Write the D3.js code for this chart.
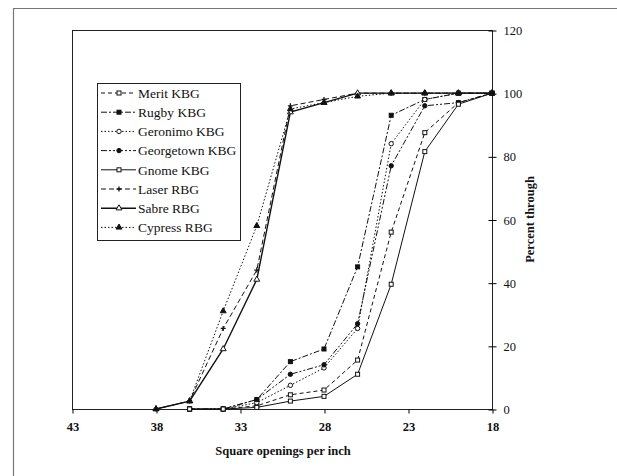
<!DOCTYPE html>
<html>
<head>
<meta charset="utf-8">
<script src="https://cdn.jsdelivr.net/npm/d3@7"></script>
<style>
  body { margin: 0; background: #fff; }
  svg text { font-family: "Liberation Serif", "Times New Roman", Times, serif !important; fill: #111; }
</style>
</head>
<body>
<script>
//// Data ////
const X_TICKS = [43, 38, 33, 28, 23, 18]
const Y_TICKS = [0, 20, 40, 60, 80, 100, 120]

const X_KBG = [36, 34, 32, 30, 28, 26, 24, 22, 20, 18]
const X_RBG = [38, 36, 34, 32, 30, 28, 26, 24, 22, 20, 18]

const MERIT = [0, 0, 1, 4.5, 6, 15.5, 56, 87.5, 97, 100]
const RUGBY = [0, 0, 3, 15, 19, 45, 93, 98, 100, 100]
const GERONIMO = [0, 0, 2, 7.5, 13, 25.5, 84, 98, 100, 100]
const GEORGETOWN = [0, 0, 3, 11, 14, 27, 77, 96, 97, 100]
const GNOME = [0, 0, 0.5, 2.5, 4, 11, 39.5, 81.5, 96.5, 100]
const LASER = [0, 2.5, 25.5, 44, 96, 98, 100, 100, 100, 100, 100]
const SABRE = [0, 2.5, 19, 41, 94, 97, 100, 100, 100, 100, 100]
const CYPRESS = [0, 2.5, 31, 58, 95, 97, 99, 100, 100, 100, 100]

const series = [
  { name: "Merit KBG", x: X_KBG, y: MERIT, dash: "4,3", marker: "square", fill: "#fff" },
  { name: "Rugby KBG", x: X_KBG, y: RUGBY, dash: "6,2,2,2", marker: "square", fill: "#111" },
  { name: "Geronimo KBG", x: X_KBG, y: GERONIMO, dash: "1.5,2", marker: "circle", fill: "#fff" },
  { name: "Georgetown KBG", x: X_KBG, y: GEORGETOWN, dash: "6,2,2,2,2,2", marker: "circle", fill: "#111" },
  { name: "Gnome KBG", x: X_KBG, y: GNOME, dash: null, marker: "square", fill: "#fff" },
  { name: "Laser RBG", x: X_RBG, y: LASER, dash: "5,3", marker: "plus", fill: "#111" },
  { name: "Sabre RBG", x: X_RBG, y: SABRE, dash: null, marker: "triangle", fill: "#fff", width: 1.4 },
  { name: "Cypress RBG", x: X_RBG, y: CYPRESS, dash: "1.5,2", marker: "triangle", fill: "#111" }
]

//// Layout ////
const WIDTH = 617
const HEIGHT = 476
const LEFT = 72, RIGHT = 492, TOP = 30, BOTTOM = 409
const SERIF = "'Liberation Serif', 'Times New Roman', Times, serif"

const svg = d3.select("body").append("svg")
  .attr("width", WIDTH)
  .attr("height", HEIGHT)
  .attr("font-family", SERIF)

// scanned page frame
svg.append("path")
  .attr("d", `M13.5,${HEIGHT} V8.5 H${WIDTH}`)
  .attr("fill", "none")
  .attr("stroke", "#777")
  .attr("stroke-width", 1.2)

const x = d3.scaleLinear().domain([43, 18]).range([LEFT, RIGHT])
const y = d3.scaleLinear().domain([0, 120]).range([BOTTOM, TOP])

// plot box
svg.append("rect")
  .attr("x", LEFT + 0.5).attr("y", TOP + 0.5)
  .attr("width", RIGHT - LEFT).attr("height", BOTTOM - TOP)
  .attr("fill", "none").attr("stroke", "#222").attr("stroke-width", 1)

// x axis
const xAxis = svg.append("g")
  .attr("transform", `translate(0.5,${BOTTOM + 0.5})`)
  .call(d3.axisBottom(x).tickValues(X_TICKS).tickSize(4).tickPadding(9).tickFormat(d3.format("d")))
xAxis.attr("font-family", SERIF)
xAxis.select(".domain").remove()
xAxis.selectAll("text").style("font-size", "12.5px").style("font-weight", "bold")

// y axis (right side)
const yAxis = svg.append("g")
  .attr("transform", `translate(${RIGHT + 0.5},0.5)`)
  .call(d3.axisRight(y).tickValues(Y_TICKS).tickSize(4).tickPadding(7))
yAxis.attr("font-family", SERIF)
yAxis.select(".domain").remove()
yAxis.selectAll("line").attr("x1", -4)
yAxis.selectAll("text").style("font-size", "12.5px")

// axis titles
svg.append("text")
  .attr("x", (LEFT + RIGHT) / 2 + 1).attr("y", 455)
  .attr("text-anchor", "middle")
  .style("font-size", "12.5px").style("font-weight", "bold")
  .text("Square openings per inch")

svg.append("text")
  .attr("transform", `translate(534,${(TOP + BOTTOM) / 2}) rotate(-90)`)
  .attr("text-anchor", "middle")
  .style("font-size", "12.5px").style("font-weight", "bold")
  .text("Percent through")

//// Markers ////
function drawMarker(g, s, cx, cy) {
  if (s.marker === "square") {
    g.append("rect").attr("x", cx - 2).attr("y", cy - 2).attr("width", 4).attr("height", 4)
      .attr("fill", s.fill).attr("stroke", "#111").attr("stroke-width", 1)
  } else if (s.marker === "circle") {
    g.append("circle").attr("cx", cx).attr("cy", cy).attr("r", 2.2)
      .attr("fill", s.fill).attr("stroke", "#111").attr("stroke-width", 1)
  } else if (s.marker === "plus") {
    g.append("path").attr("d", `M${cx - 2.5},${cy}H${cx + 2.5}M${cx},${cy - 2.5}V${cy + 2.5}`)
      .attr("stroke", "#111").attr("stroke-width", 1.3)
  } else {
    g.append("path").attr("d", d3.symbol(d3.symbolTriangle, 15)())
      .attr("transform", `translate(${cx},${cy})`)
      .attr("fill", s.fill).attr("stroke", "#111").attr("stroke-width", 1)
  }
}

//// Series ////
const line = d3.line().x(d => x(d[0])).y(d => y(d[1]))

series.forEach(s => {
  const pts = s.x.map((v, i) => [v, s.y[i]])
  const g = svg.append("g")
  g.append("path")
    .attr("d", line(pts))
    .attr("fill", "none")
    .attr("stroke", "#111")
    .attr("stroke-width", s.width || 1)
    .attr("stroke-dasharray", s.dash)
  pts.forEach(p => drawMarker(g, s, x(p[0]), y(p[1])))
})

//// Legend ////
const legend = svg.append("g")
legend.append("rect")
  .attr("x", 97.5).attr("y", 83.5).attr("width", 143).attr("height", 157)
  .attr("fill", "#fff").attr("stroke", "#222").attr("stroke-width", 1)

series.forEach((s, i) => {
  const ly = 93 + i * 19.2
  legend.append("line")
    .attr("x1", 101).attr("x2", 136).attr("y1", ly).attr("y2", ly)
    .attr("stroke", "#111").attr("stroke-width", s.width || 1)
    .attr("stroke-dasharray", s.dash)
  drawMarker(legend, s, 119, ly)
  legend.append("text")
    .attr("x", 138).attr("y", ly).attr("dy", "0.35em")
    .style("font-size", "13.5px")
    .text(s.name)
})
</script>
</body>
</html>
